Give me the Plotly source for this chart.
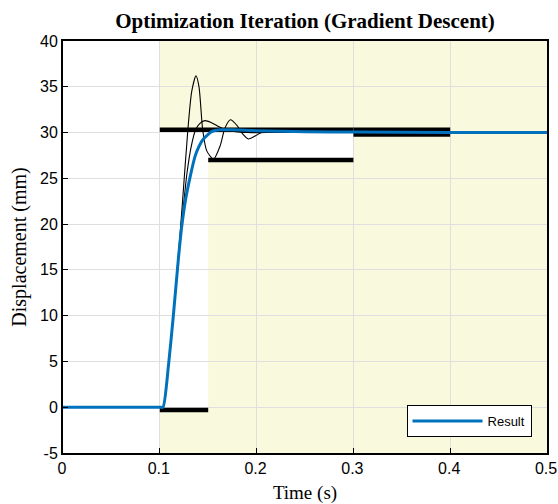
import plotly.graph_objects as go

# ---- data ----
result_t = [0, 0.1, 0.1033, 0.1088, 0.1139, 0.1191, 0.1225, 0.127, 0.131, 0.1364, 0.1405, 0.145,
            0.1536, 0.162, 0.175, 0.2, 0.25, 0.3, 0.4, 0.5]
result_y = [0, 0, 0, 4.4, 9.9, 16.1, 19.6, 22.9, 25.0, 27.4, 28.5, 29.3,
            30.1, 30.3, 30.3, 30.2, 30.1, 30.05, 30.0, 30.0]

iter1_t = [0, 0.1, 0.1033, 0.1088, 0.1139, 0.1191, 0.1235, 0.129, 0.133, 0.1374, 0.1405,
           0.1443, 0.1485, 0.1555, 0.1625, 0.1673, 0.173, 0.1795, 0.186, 0.1915, 0.198,
           0.205, 0.215, 0.23, 0.26, 0.3]
iter1_y = [0, 0, 0, 4.4, 10, 16.5, 22.5, 30.3, 34.5, 36.2, 35,
           30.3, 28.0, 27.1, 28.6, 30.5, 31.4, 30.8, 29.8, 29.3, 29.6,
           30.0, 30.15, 30.05, 30.0, 30.0]

iter2_t = [0, 0.1, 0.1033, 0.1088, 0.1139, 0.1191, 0.1235, 0.128, 0.1325, 0.137, 0.1415,
           0.1467, 0.153, 0.16, 0.168, 0.178, 0.19, 0.21, 0.3]
iter2_y = [0, 0, 0, 4.4, 9.9, 16.3, 21, 25.5, 28.5, 30.3, 31.0,
           31.3, 31.1, 30.7, 30.35, 30.1, 30.0, 30.0, 30.0]

# step-response constraint bounds
step_time = 0.1
rise_time = 0.15
settle_time = 0.3
settle_end = 0.4
end_time = 0.5
overshoot_level = 30.3
rise_level = 27
settle_low = 29.8
undershoot_level = -0.3

x_ticks = [0, 0.1, 0.2, 0.3, 0.4, 0.5]
x_ticklabels = ["0", "0.1", "0.2", "0.3", "0.4", "0.5"]
y_ticks = [-5, 0, 5, 10, 15, 20, 25, 30, 35, 40]
y_ticklabels = ["-5", "0", "5", "10", "15", "20", "25", "30", "35", "40"]

y_min, y_max = -5, 40

YELLOW = "rgb(249,249,221)"
BLUE = "#0072BD"

fig = go.Figure()

# constraint bound lines
bounds = [
    ([step_time, settle_time], [overshoot_level, overshoot_level]),
    ([settle_time, settle_end], [overshoot_level, overshoot_level]),
    ([settle_time, settle_end], [settle_low, settle_low]),
    ([rise_time, settle_time], [rise_level, rise_level]),
    ([step_time, rise_time], [undershoot_level, undershoot_level]),
]
for bx, by in bounds:
    fig.add_trace(go.Scatter(x=bx, y=by, mode="lines",
                             line=dict(color="black", width=4.5),
                             showlegend=False, hoverinfo="skip"))

for tx, ty in [(iter1_t, iter1_y), (iter2_t, iter2_y)]:
    fig.add_trace(go.Scatter(x=tx, y=ty, mode="lines",
                             line=dict(color="black", width=1.1, shape="spline", smoothing=0.7),
                             showlegend=False, hoverinfo="skip"))

fig.add_trace(go.Scatter(x=result_t, y=result_y, mode="lines", name="Result",
                         line=dict(color=BLUE, width=3, shape="spline", smoothing=0.6)))

# shaded infeasible region and white feasible region
shapes = [
    dict(type="rect", xref="x", yref="y", x0=step_time, x1=end_time, y0=y_min, y1=y_max,
         fillcolor=YELLOW, line_width=0, layer="below"),
    dict(type="rect", xref="x", yref="y", x0=step_time, x1=rise_time,
         y0=undershoot_level, y1=overshoot_level, fillcolor="white", line_width=0, layer="below"),
    dict(type="rect", xref="x", yref="y", x0=rise_time, x1=settle_time,
         y0=rise_level, y1=overshoot_level, fillcolor="white", line_width=0, layer="below"),
    dict(type="rect", xref="x", yref="y", x0=settle_time, x1=settle_end,
         y0=settle_low, y1=overshoot_level, fillcolor="white", line_width=0, layer="below"),
]

tick_font = dict(family="Liberation Sans, Arial", size=16, color="black")

fig.update_layout(
    width=558, height=504,
    margin=dict(l=63, r=11, t=41, b=51),
    paper_bgcolor="white", plot_bgcolor="white",
    shapes=shapes,
    title=dict(text="<b>Optimization Iteration (Gradient Descent)</b>",
               font=dict(family="Liberation Serif, Times New Roman", size=21, color="black"),
               xref="paper", x=0.5, xanchor="center", y=0.96, yanchor="middle", automargin=False),
    xaxis=dict(range=[0, 0.5], tickvals=x_ticks, ticktext=x_ticklabels,
               showgrid=True, gridcolor="rgb(223,223,223)", gridwidth=1,
               ticks="inside", ticklen=5, tickcolor="black", tickwidth=1,
               showline=True, linecolor="black", linewidth=2, mirror=True,
               zeroline=False, tickfont=tick_font, automargin=False,
               ticklabeloverflow="allow", ticklabelshift=-1,
               title=dict(text="Time (s)", standoff=11,
                          font=dict(family="Liberation Serif, Times New Roman", size=19, color="black"))),
    yaxis=dict(range=[y_min, y_max], tickvals=y_ticks, ticktext=y_ticklabels,
               showgrid=True, gridcolor="rgb(223,223,223)", gridwidth=1,
               ticks="inside", ticklen=5, tickcolor="black", tickwidth=1,
               showline=True, linecolor="black", linewidth=2, mirror=True,
               zeroline=False, tickfont=tick_font, automargin=False,
               ticklabeloverflow="allow",
               title=dict(text="Displacement (mm)", standoff=8,
                          font=dict(family="Liberation Serif, Times New Roman", size=20, color="black"))),
    legend=dict(x=0.968, y=0.039, xanchor="right", yanchor="bottom",
                bgcolor="white", bordercolor="black", borderwidth=1,
                font=dict(family="Liberation Sans, Arial", size=13, color="black"),
                itemwidth=70),
    showlegend=True,
)

# remove the page's default body margin so the 558x504 figure fills the window exactly
fig.write_html("out.html", config={"displayModeBar": False},
               post_script="document.body.style.margin='0px';")
